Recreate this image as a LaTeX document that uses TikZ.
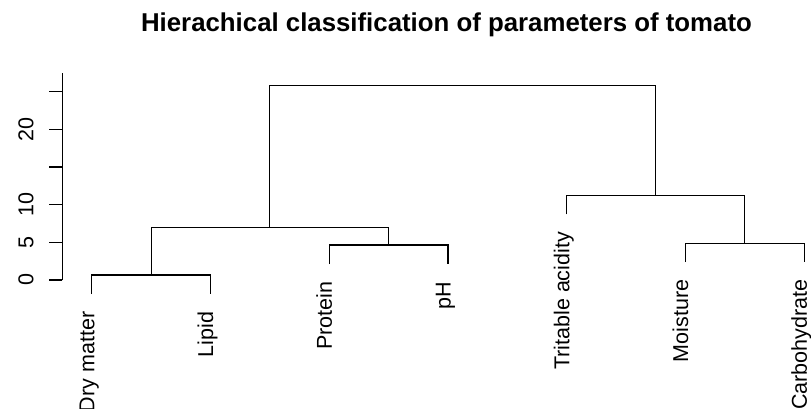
\documentclass[tikz,border=0pt]{standalone}
\usepackage{fontspec}
\setmainfont{Liberation Sans}
\begin{document}
\begin{tikzpicture}[x=1pt,y=-1pt,
  link/.style={line width=1.1pt, line join=miter},
  leaflabel/.style={rotate=90, anchor=mid east, inner sep=0pt,
    font=\fontsize{21.5}{24}\selectfont},
  ticklabel/.style={rotate=90, anchor=base, inner sep=0pt,
    font=\fontsize{21.5}{24}\selectfont},
  axisline/.style={line width=1.1pt}]
\useasboundingbox (0,0) rectangle (811,409);

% title
\node[anchor=base, inner sep=0pt, font=\fontsize{25.8}{30}\selectfont\bfseries]
  (title) at (446.5,31.7) {Hierachical classification of parameters of tomato};

% height axis (0 at y=280, 7.535 px per unit)
\coordinate (axtop) at (62.3,73.3);
\coordinate (axbot) at (62.3,280);
\draw[axisline] (axtop) -- (axbot);
\foreach \v in {0,5,10,15,20,25}{
  \draw[axisline] (62.3,{280-7.535*\v}) -- (49,{280-7.535*\v});
}
\foreach \v in {0,5,10,20}{
  \node[ticklabel] (t\v) at (33.3,{280-7.535*\v}) {\v};
}

% leaf ends
\coordinate (dm) at (91.7,294);
\coordinate (li) at (210.5,294);
\coordinate (pr) at (329.2,264);
\coordinate (ph) at (448.0,264);
\coordinate (ta) at (566.8,214.3);
\coordinate (mo) at (685.5,262);
\coordinate (ca) at (804.3,262);

% label anchors, a fixed gap below each leaf end
\coordinate (gdm) at (91.7,311.5);
\coordinate (gli) at (210.5,311.5);
\coordinate (gpr) at (329.2,281.5);
\coordinate (gph) at (448.0,281.5);
\coordinate (gta) at (566.8,231.8);
\coordinate (gmo) at (685.5,279.5);
\coordinate (gca) at (804.3,279.5);

% merge points
\coordinate (mDL) at (151.1,275);
\coordinate (mPH) at (388.6,245);
\coordinate (mA)  at (269.85,227.3);
\coordinate (mMC) at (744.9,243.3);
\coordinate (mTB) at (655.85,195.7);
\coordinate (mTop) at (462.85,85.7);

% dendrogram links
\draw[link] (dm) |- (mDL) -| (li);
\draw[link] (pr) |- (mPH) -| (ph);
\draw[link] (mDL) |- (mA) -| (mPH);
\draw[link] (mo) |- (mMC) -| (ca);
\draw[link] (ta) |- (mTB) -| (mMC);
\draw[link] (mA) |- (mTop) -| (mTB);

% leaf labels
\node[leaflabel] (ldm) at (gdm) {Dry matter};
\node[leaflabel] (lli) at (gli) {Lipid};
\node[leaflabel] (lpr) at (gpr) {Protein};
\node[leaflabel] (lph) at (gph) {pH};
\node[leaflabel] (lta) at (gta) {Tritable acidity};
\node[leaflabel] (lmo) at (gmo) {Moisture};
\node[leaflabel] (lca) at (gca) {Carbohydrate};
\end{tikzpicture}
\end{document}
